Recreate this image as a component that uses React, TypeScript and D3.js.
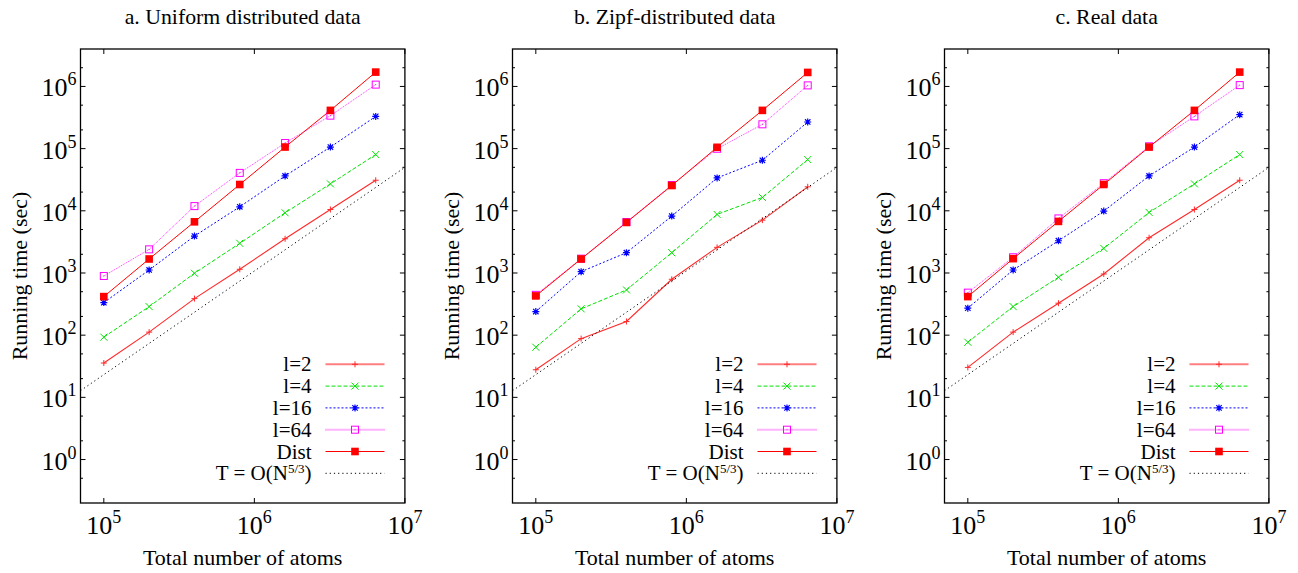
import React from "react";
import * as d3 from "d3";

// ---------- data ----------
const atoms = [1e5, 2e5, 4e5, 8e5, 1.6e6, 3.2e6, 6.4e6];

const titles = ["a. Uniform distributed data", "b. Zipf-distributed data", "c. Real data"];

const uniformL2 = [35.6, 112, 387, 1147, 3550, 10500, 31000];
const uniformL4 = [93, 288, 990, 3000, 9290, 27100, 80300];
const uniformL16 = [334, 1117, 3925, 11600, 36400, 106000, 330000];
const uniformL64 = [895, 2400, 11900, 40700, 123000, 339000, 1070000];
const uniformDist = [417, 1680, 6650, 26500, 106000, 412000, 1700000];

const zipfL2 = [27.8, 88, 166, 793, 2585, 7080, 24300];
const zipfL4 = [64, 265, 534, 2120, 8750, 16400, 66700];
const zipfL16 = [240, 1050, 2120, 8220, 33800, 65000, 268000];
const zipfL64 = [445, 1700, 6600, 26000, 99500, 246000, 1040000];
const zipfDist = [428, 1680, 6500, 25500, 105000, 412000, 1680000];

const realL2 = [30.3, 112, 327, 964, 3690, 10500, 31000];
const realL4 = [77, 288, 853, 2490, 9420, 27100, 80300];
const realL16 = [272, 1117, 3300, 9890, 36400, 106000, 352000];
const realL64 = [483, 1790, 7540, 27800, 109000, 330000, 1050000];
const realDist = [417, 1700, 6750, 26500, 106000, 412000, 1700000];

// reference line T = O(N^(5/3)), endpoints
const refN = [7e4, 1e7];
const refT = [12.8, 50000];

const seriesNames = ["l=2", "l=4", "l=16", "l=64", "Dist"];

const xTicks = [1e5, 1e6, 1e7];
const xTickExp = ["5", "6", "7"];
const yTicks = [1, 10, 100, 1e3, 1e4, 1e5, 1e6];
const yTickExp = ["0", "1", "2", "3", "4", "5", "6"];

const panels = [
  [uniformL2, uniformL4, uniformL16, uniformL64, uniformDist],
  [zipfL2, zipfL4, zipfL16, zipfL64, zipfDist],
  [realL2, realL4, realL16, realL64, realDist],
];

// ---------- styles ----------
const styles = [
  { color: "#ff2a2a", dash: "", width: 1.1, marker: "plus" },
  { color: "#00e000", dash: "4 2", width: 1, marker: "cross" },
  { color: "#0000ff", dash: "2 2", width: 1, marker: "star" },
  { color: "#ff00ff", dash: "1 1", width: 0.8, marker: "box" },
  { color: "#ff0000", dash: "", width: 1, marker: "fbox" },
];

const FONT = "Liberation Serif, Tinos, Times New Roman, Times, DejaVu Serif, Noto Serif, serif";
const W = 1298;
const H = 573;
const PANEL_LEFT = 80.5;
const PANEL_STEP = 432;
const PW = 324.4;
const TOP = 49;
const BOTTOM = 503;

function Marker({ type, x, y, color }: { type: string; x: number; y: number; color: string }) {
  if (type === "plus") {
    const s = 3;
    return <path d={`M${x - s},${y}H${x + s}M${x},${y - s}V${y + s}`} stroke={color} strokeWidth={1} fill="none" />;
  }
  if (type === "cross") {
    const s = 3.5;
    return (
      <path d={`M${x - s},${y - s}L${x + s},${y + s}M${x - s},${y + s}L${x + s},${y - s}`} stroke={color} strokeWidth={1} fill="none" />
    );
  }
  if (type === "star") {
    const s = 3.5;
    return (
      <path
        d={`M${x - s},${y}H${x + s}M${x},${y - s}V${y + s}M${x - s + 0.8},${y - s + 0.8}L${x + s - 0.8},${y + s - 0.8}M${x - s + 0.8},${y + s - 0.8}L${x + s - 0.8},${y - s + 0.8}`}
        stroke={color}
        strokeWidth={1.2}
        fill="none"
      />
    );
  }
  if (type === "box") {
    const s = 3.5;
    return (
      <g>
        <rect x={x - s} y={y - s} width={2 * s} height={2 * s} stroke={color} strokeWidth={1} fill="none" />
        <rect x={x - 0.5} y={y - 0.5} width={1} height={1} fill={color} />
      </g>
    );
  }
  const s = 3.8;
  return <rect x={x - s} y={y - s} width={2 * s} height={2 * s} fill={color} />;
}

function Panel({ index }: { index: number }) {
  const left = PANEL_LEFT + PANEL_STEP * index;
  const right = left + PW;
  const x = d3.scaleLog().domain([7e4, 1e7]).range([left, right]);
  const y = d3.scaleLog().domain([0.2, 4e6]).range([BOTTOM, TOP]);
  const line = d3
    .line<[number, number]>()
    .x((d) => x(d[0]))
    .y((d) => y(d[1]));
  const data = panels[index];
  const cx = (left + right) / 2;

  // minor y ticks at 2 and 5 per decade
  const minorY: number[] = [];
  for (let e = -1; e <= 6; e++) {
    [2, 5].forEach((m) => {
      const v = m * Math.pow(10, e);
      if (v > 0.2 && v < 4e6) minorY.push(v);
    });
  }

  const legendRight = left + 231;
  const legendX0 = left + 245;
  const legendX1 = left + 304;
  const legendMid = left + 274.5;
  const legendY0 = 364.3;
  const legendDY = 21.8;

  return (
    <g>
      <text x={cx} y={24} textAnchor="middle" fontSize={21.8} fontFamily={FONT}>
        {titles[index]}
      </text>
      {/* plot */}
      <defs>
        <clipPath id={`clip${index}`}>
          <rect x={left} y={TOP} width={PW} height={BOTTOM - TOP} />
        </clipPath>
      </defs>
      <g clipPath={`url(#clip${index})`}>
        {data.map((vals, si) => {
          const st = styles[si];
          return (
            <path
              key={si}
              d={line(atoms.map((n, i) => [n, vals[i]] as [number, number])) || ""}
              stroke={st.color}
              strokeWidth={st.width}
              strokeDasharray={st.dash}
              fill="none"
            />
          );
        })}
        {data.map((vals, si) => (
          <g key={si}>
            {atoms.map((n, i) => (
              <Marker key={i} type={styles[si].marker} x={x(n)} y={y(vals[i])} color={styles[si].color} />
            ))}
          </g>
        ))}
        <path
          d={line(refN.map((n, i) => [n, refT[i]] as [number, number])) || ""}
          stroke="#000"
          strokeWidth={1}
          strokeDasharray="1.2 3"
          fill="none"
        />
      </g>
      {/* axes box */}
      <rect x={left} y={TOP} width={PW} height={BOTTOM - TOP} fill="none" stroke="#000" strokeWidth={1.3} />
      {xTicks.map((t, i) => (
        <g key={i}>
          <line x1={x(t)} x2={x(t)} y1={BOTTOM} y2={BOTTOM - 5} stroke="#000" />
          <line x1={x(t)} x2={x(t)} y1={TOP} y2={TOP + 5} stroke="#000" />
          <text x={x(t)} y={534} textAnchor="middle" fontSize={26} fontFamily={FONT}>
            10
            <tspan dy={-11} fontSize={18}>
              {xTickExp[i]}
            </tspan>
          </text>
        </g>
      ))}
      {yTicks.map((t, i) => (
        <g key={i}>
          <line x1={left} x2={left + 5} y1={y(t)} y2={y(t)} stroke="#000" />
          <line x1={right} x2={right - 5} y1={y(t)} y2={y(t)} stroke="#000" />
          <text x={left - 4} y={y(t) + 10} textAnchor="end" fontSize={26} fontFamily={FONT}>
            10
            <tspan dy={-11} fontSize={18}>
              {yTickExp[i]}
            </tspan>
          </text>
        </g>
      ))}
      {minorY.map((t, i) => (
        <g key={i}>
          <line x1={left} x2={left + 2.5} y1={y(t)} y2={y(t)} stroke="#000" />
          <line x1={right} x2={right - 2.5} y1={y(t)} y2={y(t)} stroke="#000" />
        </g>
      ))}
      {/* axis labels */}
      <text x={cx} y={565} textAnchor="middle" fontSize={22} fontFamily={FONT}>
        Total number of atoms
      </text>
      <text
        transform={`translate(${left - 53.5},${(TOP + BOTTOM) / 2}) rotate(-90)`}
        textAnchor="middle"
        fontSize={22}
        fontFamily={FONT}
      >
        Running time (sec)
      </text>
      {/* legend */}
      {seriesNames.map((name, si) => {
        const ly = legendY0 + legendDY * si;
        const st = styles[si];
        const thick = si === 0 || si === 3;
        return (
          <g key={si}>
            <text x={legendRight} y={ly + 7} textAnchor="end" fontSize={21} fontFamily={FONT}>
              {name}
            </text>
            <line
              x1={legendX0}
              x2={legendX1}
              y1={ly}
              y2={ly}
              stroke={st.color}
              strokeWidth={thick ? 2 : st.width}
              strokeOpacity={thick ? 0.6 : 1}
              strokeDasharray={st.dash}
            />
            <Marker type={st.marker} x={legendMid} y={ly} color={st.color} />
          </g>
        );
      })}
      <g>
        <text x={legendRight} y={legendY0 + legendDY * 5 + 7} textAnchor="end" fontSize={21} fontFamily={FONT}>
          T = O(N
          <tspan dy={-7} fontSize={13}>
            5/3
          </tspan>
          <tspan dy={7}>)</tspan>
        </text>
        <line
          x1={legendX0}
          x2={legendX1}
          y1={legendY0 + legendDY * 5}
          y2={legendY0 + legendDY * 5}
          stroke="#000"
          strokeWidth={1}
          strokeDasharray="1.2 3"
        />
      </g>
    </g>
  );
}

export default function App() {
  return (
    <svg
      width={W}
      height={H}
      viewBox={`0 0 ${W} ${H}`}
      style={{ position: "absolute", left: 0, top: 0, background: "#fff" }}
    >
      <rect width={W} height={H} fill="#fff" />
      {[0, 1, 2].map((i) => (
        <Panel key={i} index={i} />
      ))}
    </svg>
  );
}
